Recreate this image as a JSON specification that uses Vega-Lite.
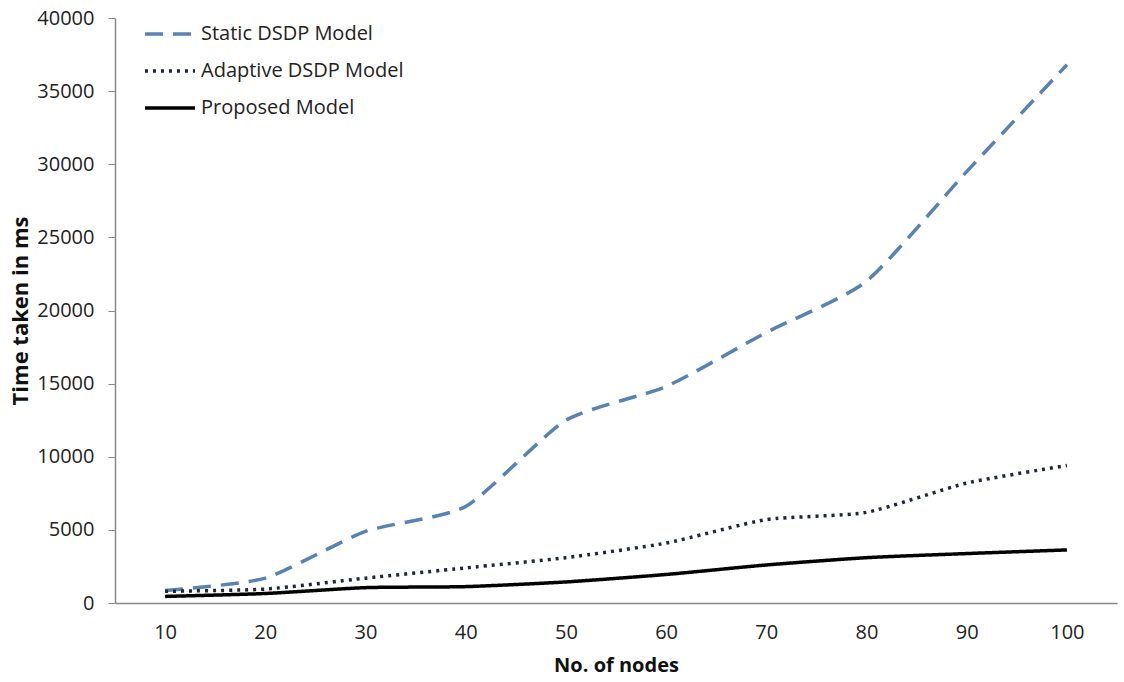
{
  "$schema": "https://vega.github.io/schema/vega-lite/v6.json",
  "width": 1002,
  "height": 585,
  "autosize": {"type": "none"},
  "padding": {"left": 115, "top": 18, "right": 7, "bottom": 79},
  "background": "white",
  "config": {
    "view": {"stroke": null},
    "font": "Open Sans"
  },
  "data": {
    "values": [
      {"nodes": "10", "series": "Static DSDP Model", "time": 850},
      {"nodes": "20", "series": "Static DSDP Model", "time": 1700},
      {"nodes": "30", "series": "Static DSDP Model", "time": 4900},
      {"nodes": "40", "series": "Static DSDP Model", "time": 6600},
      {"nodes": "50", "series": "Static DSDP Model", "time": 12500},
      {"nodes": "60", "series": "Static DSDP Model", "time": 14800},
      {"nodes": "70", "series": "Static DSDP Model", "time": 18500},
      {"nodes": "80", "series": "Static DSDP Model", "time": 22000},
      {"nodes": "90", "series": "Static DSDP Model", "time": 29500},
      {"nodes": "100", "series": "Static DSDP Model", "time": 36800},
      {"nodes": "10", "series": "Adaptive DSDP Model", "time": 800},
      {"nodes": "20", "series": "Adaptive DSDP Model", "time": 950},
      {"nodes": "30", "series": "Adaptive DSDP Model", "time": 1700},
      {"nodes": "40", "series": "Adaptive DSDP Model", "time": 2400},
      {"nodes": "50", "series": "Adaptive DSDP Model", "time": 3100},
      {"nodes": "60", "series": "Adaptive DSDP Model", "time": 4100},
      {"nodes": "70", "series": "Adaptive DSDP Model", "time": 5700},
      {"nodes": "80", "series": "Adaptive DSDP Model", "time": 6200},
      {"nodes": "90", "series": "Adaptive DSDP Model", "time": 8200},
      {"nodes": "100", "series": "Adaptive DSDP Model", "time": 9400},
      {"nodes": "10", "series": "Proposed Model", "time": 450},
      {"nodes": "20", "series": "Proposed Model", "time": 650},
      {"nodes": "30", "series": "Proposed Model", "time": 1050},
      {"nodes": "40", "series": "Proposed Model", "time": 1120},
      {"nodes": "50", "series": "Proposed Model", "time": 1440},
      {"nodes": "60", "series": "Proposed Model", "time": 1950},
      {"nodes": "70", "series": "Proposed Model", "time": 2600},
      {"nodes": "80", "series": "Proposed Model", "time": 3100},
      {"nodes": "90", "series": "Proposed Model", "time": 3380},
      {"nodes": "100", "series": "Proposed Model", "time": 3630}
    ]
  },
  "mark": {"type": "line", "interpolate": "cardinal", "tension": 0.4, "strokeWidth": 3.5},
  "encoding": {
    "x": {
      "field": "nodes",
      "type": "ordinal",
      "sort": null,
      "scale": {"type": "point", "padding": 0.5},
      "axis": {
        "title": "No. of nodes",
        "labelAngle": 0,
        "labelFontSize": 20,
        "labelColor": "#222222",
        "ticks": false,
        "labelPadding": 19,
        "domainColor": "#888888",
        "domainWidth": 1.5,
        "titleFontSize": 20,
        "titleFontWeight": "bold",
        "titleColor": "#111111",
        "titlePadding": 13
      }
    },
    "y": {
      "field": "time",
      "type": "quantitative",
      "scale": {"domain": [0, 40000], "nice": false},
      "axis": {
        "title": "Time taken in ms",
        "values": [0, 5000, 10000, 15000, 20000, 25000, 30000, 35000, 40000],
        "format": "d",
        "grid": false,
        "labelFontSize": 20,
        "labelColor": "#222222",
        "tickSize": 7,
        "tickColor": "#888888",
        "labelPadding": 14,
        "domainColor": "#888888",
        "domainWidth": 1.5,
        "titleFontSize": 22,
        "titleFontWeight": "bold",
        "titleColor": "#111111",
        "titlePadding": 4
      }
    },
    "color": {
      "field": "series",
      "type": "nominal",
      "scale": {
        "domain": ["Static DSDP Model", "Adaptive DSDP Model", "Proposed Model"],
        "range": ["#5682B4", "#1E2638", "#000000"]
      },
      "legend": {
        "title": null,
        "orient": "none",
        "legendX": 28,
        "legendY": -11,
        "symbolType": "stroke",
        "symbolSize": 2500,
        "symbolStrokeWidth": 3.5,
        "labelFontSize": 20,
        "labelColor": "#222222",
        "labelOffset": 4,
        "labelLimit": 400,
        "rowPadding": -13
      }
    },
    "strokeDash": {
      "field": "series",
      "type": "nominal",
      "scale": {
        "domain": ["Static DSDP Model", "Adaptive DSDP Model", "Proposed Model"],
        "range": [[18, 10], [3, 5], [1, 0]]
      },
      "legend": null
    }
  }
}
